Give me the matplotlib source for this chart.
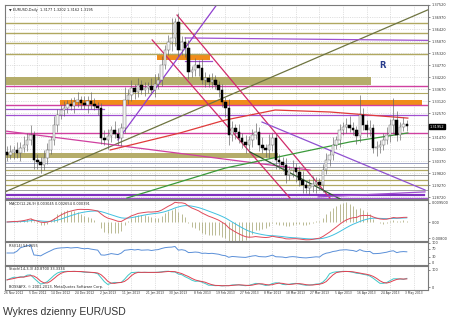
import matplotlib
matplotlib.use("Agg")
import matplotlib.pyplot as plt
import numpy as np
import pandas as pd

W, H = 450, 325

# Daily EUR/USD closes, 26 Nov 2012 - 3 May 2013
closes = [
    1.3065, 1.3079, 1.3088, 1.3074, 1.3097, 1.3111, 1.3134, 1.3157, 1.3042, 1.3033,
    1.3019, 1.3051, 1.3088, 1.3134, 1.3202, 1.3248, 1.3271, 1.3280, 1.3299, 1.3289,
    1.3308, 1.3317, 1.3303, 1.3294, 1.3312, 1.3299, 1.3289, 1.3280, 1.3143, 1.3134,
    1.3152, 1.3180, 1.3161, 1.3143, 1.3189, 1.3317, 1.3340, 1.3372, 1.3354, 1.3386,
    1.3363, 1.3372, 1.3381, 1.3363, 1.3390, 1.3409, 1.3477, 1.3546, 1.3583, 1.3601,
    1.3674, 1.3546, 1.3583, 1.3555, 1.3445, 1.3454, 1.3477, 1.3463, 1.3409, 1.3418,
    1.3399, 1.3409, 1.3386, 1.3363, 1.3308, 1.3280, 1.3157, 1.3189, 1.3170, 1.3143,
    1.3125, 1.3111, 1.3134, 1.3157, 1.3170, 1.3111, 1.3097, 1.3088, 1.3111, 1.3143,
    1.3042, 1.3033, 1.3019, 1.2973, 1.2996, 1.3005, 1.2987, 1.2950, 1.2928, 1.2914,
    1.2923, 1.2932, 1.2941, 1.2928, 1.2996, 1.3042, 1.3065, 1.3111, 1.3134, 1.3180,
    1.3193, 1.3202, 1.3189, 1.3180, 1.3152, 1.3248, 1.3202, 1.3180, 1.3189, 1.3097,
    1.3102, 1.3111, 1.3134, 1.3157, 1.3202, 1.3225, 1.3157, 1.3193, 1.3207, 1.3198,
]
first_open = 1.3080
# upper / lower shadows in pips
wick_up = [
    24, 30, 20, 36, 28, 40, 32, 44, 20, 28, 24, 36, 30, 20, 40, 28, 24, 32, 20, 28,
    24, 36, 20, 30, 24, 40, 28, 20, 24, 36, 32, 20, 40, 28, 24, 60, 28, 36, 20, 32,
    24, 28, 20, 36, 44, 30, 40, 24, 32, 90, 20, 40, 28, 24, 36, 20, 30, 24, 40, 28,
    20, 32, 24, 20, 28, 24, 40, 30, 20, 36, 24, 32, 20, 28, 40, 24, 36, 20, 50, 24,
    20, 28, 24, 32, 20, 36, 24, 28, 40, 20, 30, 36, 24, 20, 28, 32, 24, 36, 20, 28,
    24, 32, 40, 28, 20, 90, 30, 24, 36, 20, 28, 24, 32, 36, 28, 100, 40, 24, 30, 20,
]
wick_dn = [
    28, 20, 32, 24, 36, 20, 28, 24, 40, 32, 36, 24, 28, 20, 24, 32, 20, 28, 24, 20,
    32, 24, 28, 20, 36, 24, 20, 32, 28, 24, 40, 28, 20, 32, 36, 24, 20, 28, 32, 24,
    20, 28, 24, 20, 32, 24, 28, 20, 24, 40, 36, 28, 24, 40, 32, 24, 28, 36, 20, 32,
    24, 28, 20, 32, 24, 40, 44, 28, 32, 24, 28, 36, 24, 32, 20, 28, 24, 32, 36, 28,
    40, 32, 28, 36, 24, 32, 44, 28, 36, 24, 32, 28, 40, 24, 32, 20, 28, 24, 20, 32,
    24, 28, 20, 24, 36, 28, 24, 32, 28, 24, 36, 28, 24, 20, 32, 40, 28, 24, 20, 24,
]

date_ticks = list(range(2, 122, 7))
date_labels = [
    "26 Nov 2012", "5 Dec 2012", "14 Dec 2012", "24 Dec 2012", "2 Jan 2013",
    "11 Jan 2013", "21 Jan 2013", "30 Jan 2013", "8 Feb 2013", "19 Feb 2013",
    "27 Feb 2013", "8 Mar 2013", "18 Mar 2013", "27 Mar 2013", "5 Apr 2013",
    "16 Apr 2013", "24 Apr 2013", "3 May 2013",
]
price_ticks = [
    1.37520, 1.36970, 1.36420, 1.35870, 1.35320, 1.34770, 1.34220, 1.33670, 1.33120,
    1.32570, 1.32020, 1.31470, 1.30920, 1.30370, 1.29820, 1.29270, 1.28720,
]
last_price = 1.31952

OLIVE = "#b0a860"
PURPLE = "#a050d0"
MAGENTA = "#d040a0"
ORANGE = "#f08c1a"

# horizontal levels: price, first bar, last bar, colour, width
levels = [
    (1.3670, -1, 126, OLIVE, 1.0),
    (1.3624, -1, 126, OLIVE, 1.0),
    (1.3578, -1, 126, OLIVE, 1.0),
    (1.3528, -1, 126, OLIVE, 1.0),
    (1.3495, 53, 61, PURPLE, 0.9),
    (1.3381, -1, 126, MAGENTA, 1.0),
    (1.3349, -1, 126, OLIVE, 0.8),
    (1.3292, -1, 126, MAGENTA, 1.0),
    (1.3276, -1, 29, PURPLE, 0.9),
    (1.3248, -1, 126, PURPLE, 0.9),
    (1.3166, -1, 126, MAGENTA, 1.0),
    (1.3028, -1, 126, "#9aa0c0", 0.7),
    (1.3010, -1, 126, "#a0a0a0", 0.7),
    (1.2996, -1, 126, OLIVE, 0.9),
    (1.2973, -1, 126, "#a0a0a0", 0.7),
    (1.2950, -1, 126, OLIVE, 0.9),
    (1.2928, -1, 126, OLIVE, 0.9),
    (1.2905, -1, 126, "#a0a0a0", 0.7),
    (1.2880, -1, 124, "#8030c0", 1.6),
    (1.2866, -1, 126, PURPLE, 0.9),
]
# rectangles: low, high, first bar, last bar, colour
zones = [
    (1.3500, 1.3523, 44.6, 60.4, ORANGE),
    (1.3386, 1.3422, -1, 108.3, "#b5ad6a"),
    (1.3294, 1.3317, 15.8, 123.5, ORANGE),
    (1.3051, 1.3074, -1, 80.6, "#b5ad6a"),
]
# trend lines: (bar, price) -> (bar, price), colour, width
trends = [
    ((-0.6, 1.2896), (125.3, 1.3730), "#6e7440", 0.9),
    ((53.0, 1.3601), (125.3, 1.3590), PURPLE, 0.9),
    ((-0.6, 1.3175), (90.2, 1.2996), MAGENTA, 0.9),
    ((50.6, 1.3706), (96.1, 1.2868), "#d02a6a", 0.9),
    ((43.2, 1.3592), (84.2, 1.2868), "#d02a6a", 0.9),
    ((33.0, 1.3134), (62.8, 1.3761), "#9040d0", 0.9),
    ((75.9, 1.3216), (124.4, 1.2905), "#9050d0", 0.9),
    ((72.3, 1.3079), (99.7, 1.2859), "#2d5a2d", 0.9),
    ((92.6, 1.2873), (124.4, 1.2896), PURPLE, 0.9),
]
green_bars = [35.7, 64.9, 102.1, 119.3]
green_vals = [1.2868, 1.3005, 1.3125, 1.3166]
ma_bars = [30.7, 51.5, 64.9, 79.8, 96.1, 106.0, 119.3]
ma_vals = [1.3088, 1.3166, 1.3225, 1.3271, 1.3262, 1.3250, 1.3234]

TICK_FS = 2.5


def panel(top, bottom):
    return [5 / W, 1 - bottom / H, 423 / W, (bottom - top) / H]


def style(ax, ylim):
    ax.set_xlim(-0.6, 125.3)
    ax.set_ylim(*ylim)
    ax.set_facecolor("white")
    for s in ax.spines.values():
        s.set_color("#7a7a7a")
        s.set_linewidth(0.8)
    ax.yaxis.tick_right()
    ax.tick_params(axis="y", labelsize=TICK_FS, length=1.5, width=0.4, pad=1,
                   colors="#333333")
    ax.tick_params(axis="x", length=0, labelbottom=False)
    ax.set_xticks(date_ticks)
    for t in date_ticks:
        ax.axvline(t, color="#c8c8c8", lw=0.4, ls=(0, (2, 2)), zorder=0)


idx = np.arange(len(closes))
c = np.array(closes)
o = np.concatenate([[first_open], c[:-1]])
hi = np.maximum(o, c) + np.array(wick_up) * 1e-4
lo = np.minimum(o, c) - np.array(wick_dn) * 1e-4

fig = plt.figure(figsize=(W / 100, H / 100), dpi=100)
fig.patch.set_facecolor("white")

# ---- main price panel
ax = fig.add_axes(panel(5, 199))
style(ax, (1.28635, 1.37520))
ax.set_yticks(price_ticks)
# the label under the current-price box is hidden, as in the terminal
ax.set_yticklabels(["" if abs(p - last_price) < 0.002 else f"{p:.5f}"
                    for p in price_ticks])
for p in price_ticks:
    ax.axhline(p, color="#c8c8c8", lw=0.4, ls=(0, (2, 2)), zorder=0)

for lo_p, hi_p, b0, b1, col in zones:
    ax.fill_between([b0, b1], lo_p, hi_p, color=col, lw=0, zorder=1)
for p, b0, b1, col, lw in levels:
    ax.plot([b0, b1], [p, p], color=col, lw=lw, zorder=2)
for (b0, p0), (b1, p1), col, lw in trends:
    ax.plot([b0, b1], [p0, p1], color=col, lw=lw, zorder=2)
ax.plot(green_bars, green_vals, color="#3a9a3a", lw=0.9, zorder=2)
ax.plot(ma_bars, ma_vals, color="#e03a3a", lw=0.9, zorder=2)

up = c >= o
ax.vlines(idx, lo, hi, color="#606060", lw=0.45, zorder=3)
ax.bar(idx[up], (c - o)[up], bottom=o[up], width=0.75, color="#f4f4f4",
       edgecolor="#707070", lw=0.35, zorder=4)
ax.bar(idx[~up], (o - c)[~up], bottom=c[~up], width=0.75, color="black",
       edgecolor="black", lw=0.35, zorder=4)

ax.text(111.9, 1.3477, "R", color="#283c8c", fontsize=6, fontweight="bold",
        ha="center", va="center")
ax.text(0.01, 0.985, "\u25bc EURUSD,Daily  1.3177 1.3202 1.3162 1.3195",
        transform=ax.transAxes, fontsize=TICK_FS, va="top", color="#222222")
ax.text(1.004, (last_price - 1.28635) / (1.37520 - 1.28635), f"{last_price:.5f}",
        transform=ax.transAxes, fontsize=TICK_FS, color="white", va="center",
        bbox=dict(boxstyle="square,pad=0.25", fc="black", ec="black"))

# ---- MACD
macd_ax = fig.add_axes(panel(200, 241))
style(macd_ax, (-0.0095, 0.0110))
s = pd.Series(closes)
macd = s.ewm(span=12, adjust=False).mean() - s.ewm(span=26, adjust=False).mean()
signal = macd.ewm(span=9, adjust=False).mean()
hist = macd - signal
macd_ax.vlines(idx, 0, hist * 2.5, color="#a8a878", lw=0.55, zorder=2)
macd_ax.plot(idx, signal, color="#40c0e0", lw=0.7, zorder=3)
macd_ax.plot(idx, macd, color="#e04a5a", lw=0.7, zorder=3)
macd_ax.set_yticks([0.0095, 0.0, -0.0080])
macd_ax.set_yticklabels(["0.009500", "0.00", "-0.00800"])
macd_ax.text(0.01, 0.95, "MACD(12,26,9) 0.003045 0.002654 0.000391",
             transform=macd_ax.transAxes, fontsize=TICK_FS, va="top", color="#222222")

# ---- RSI
rsi_ax = fig.add_axes(panel(242, 265))
style(rsi_ax, (-10, 105))
d = s.diff().fillna(0)
gain = d.clip(lower=0).ewm(alpha=1 / 14, adjust=False).mean()
loss = (-d.clip(upper=0)).ewm(alpha=1 / 14, adjust=False).mean()
rsi = 100 - 100 / (1 + gain / loss.replace(0, np.nan))
rsi_ax.plot(idx, rsi.fillna(50), color="#5a8fd8", lw=0.7)
rsi_ax.set_yticks([100, 70, 30, 0])
rsi_ax.set_yticklabels(["100", "70", "30", "0"])
rsi_ax.text(0.01, 0.92, "RSI(14) 54.2655", transform=rsi_ax.transAxes,
            fontsize=TICK_FS, va="top", color="#222222")

# ---- Stochastic
st_ax = fig.add_axes(panel(266, 290))
style(st_ax, (-17.6, 123.5))
hh = pd.Series(hi).rolling(14, min_periods=1).max()
ll = pd.Series(lo).rolling(14, min_periods=1).min()
raw = (s - ll).rolling(3, min_periods=1).sum() / (hh - ll).rolling(3, min_periods=1).sum() * 100
sig = raw.rolling(3, min_periods=1).mean()
st_ax.plot(idx, raw, color="#40c8c8", lw=0.7)
st_ax.plot(idx, sig, color="#e04050", lw=0.7)
st_ax.set_yticks([100, 0])
st_ax.set_yticklabels(["100", "0"])
st_ax.text(0.01, 0.95, "Stoch(14,3,3) 40.8700 33.3334", transform=st_ax.transAxes,
           fontsize=TICK_FS, va="top", color="#222222")
st_ax.text(0.01, 0.06, "BOSSAFX, \u00a9 2001-2013, MetaQuotes Software Corp.",
           transform=st_ax.transAxes, fontsize=TICK_FS, va="bottom", color="#222222")
st_ax.tick_params(axis="x", labelbottom=True, labelsize=2.2, pad=1, colors="#333333")
st_ax.set_xticklabels(date_labels)

fig.text(3 / W, 1 - 312 / H, "Wykres dzienny EUR/USD", fontsize=7.5,
         family="Liberation Sans", color="#333333", va="center")

fig.savefig("out.png", dpi=100, facecolor="white")
